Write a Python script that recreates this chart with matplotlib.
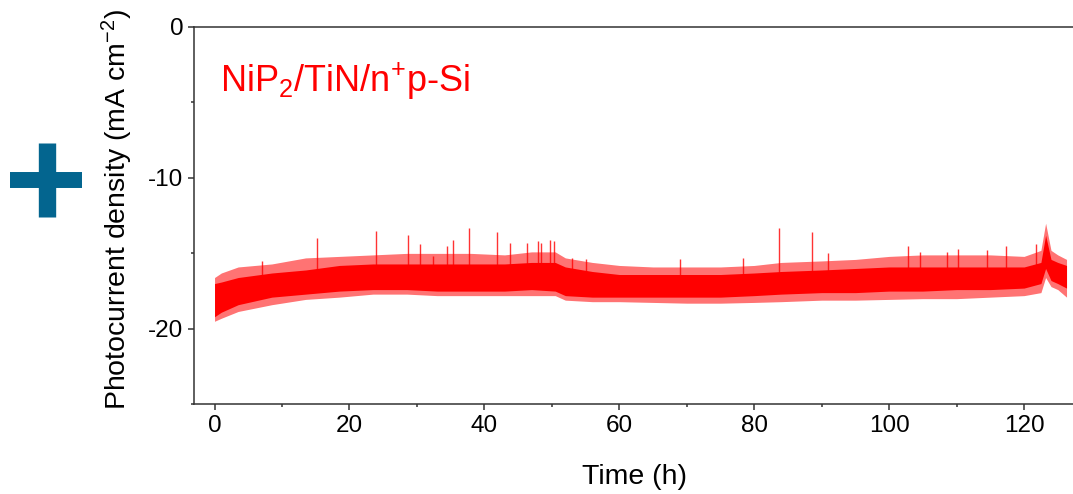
import numpy as np
import matplotlib
matplotlib.use("Agg")
import matplotlib.pyplot as plt
from matplotlib.lines import Line2D

plt.rcParams['font.family'] = ['Liberation Sans', 'DejaVu Sans']
plt.rcParams['mathtext.fontset'] = 'custom'
plt.rcParams['mathtext.rm'] = 'Liberation Sans'
plt.rcParams['mathtext.it'] = 'Liberation Sans:italic'
plt.rcParams['axes.unicode_minus'] = False

# envelope of the noisy trace (time in h, current in mA cm-2)
time_knots = [0, 1, 3.5, 8.5, 13.5, 18.5, 23.5, 28.5, 33, 38, 43, 47, 50.5, 52, 56,
              60, 65, 70, 75, 80, 84, 90, 95, 100, 105, 110, 115, 120, 122.5,
              123.2, 124, 125, 126.3]
core_hi = [-17.0, -16.9, -16.6, -16.3, -16.1, -15.8, -15.7, -15.7, -15.7, -15.7,
           -15.7, -15.6, -15.6, -15.9, -16.2, -16.4, -16.4, -16.4, -16.4, -16.3,
           -16.2, -16.1, -16.0, -15.9, -15.9, -15.9, -15.9, -15.9, -15.6,
           -13.8, -15.4, -15.6, -15.8]
core_lo = [-19.2, -18.9, -18.4, -17.9, -17.7, -17.5, -17.4, -17.4, -17.5, -17.5,
           -17.5, -17.4, -17.5, -17.8, -17.9, -17.9, -17.9, -17.9, -17.9, -17.8,
           -17.7, -17.6, -17.6, -17.5, -17.5, -17.4, -17.4, -17.3, -17.0,
           -16.0, -16.8, -17.0, -17.3]
fringe_hi = [-16.6, -16.3, -15.9, -15.7, -15.3, -15.2, -15.1, -15.0, -15.0, -15.0,
             -15.1, -14.9, -14.9, -15.3, -15.6, -15.8, -15.9, -15.9, -15.9, -15.8,
             -15.6, -15.5, -15.4, -15.2, -15.1, -15.1, -15.1, -15.2, -14.8,
             -13.0, -14.8, -15.1, -15.4]
fringe_lo = [-19.5, -19.3, -18.85, -18.4, -18.05, -17.9, -17.7, -17.7, -17.8, -17.8,
             -17.8, -17.8, -17.8, -18.1, -18.2, -18.2, -18.25, -18.3, -18.3, -18.25,
             -18.2, -18.1, -18.1, -18.05, -18.0, -18.0, -17.9, -17.8, -17.6,
             -16.6, -17.2, -17.4, -17.9]

# isolated spikes sticking out of the band
spike_time = [7.1, 15.2, 24.0, 28.7, 30.5, 32.4, 34.5, 35.4, 37.7, 41.9, 43.8,
              46.3, 47.9, 48.4, 49.8, 50.3, 53.0, 55.0, 69.0, 78.3, 83.7, 88.5,
              91.0, 102.8, 104.6, 108.6, 110.2, 114.5, 117.4, 121.7]
spike_peak = [-15.5, -14.0, -13.5, -13.8, -14.4, -15.2, -14.5, -14.1, -13.3, -13.6,
              -14.3, -14.3, -14.2, -14.3, -14.1, -14.2, -15.3, -15.4, -15.4, -15.3,
              -13.3, -13.6, -14.95, -14.5, -14.9, -14.9, -14.7, -14.75, -14.5, -14.4]

W, H = 1073, 494
fig = plt.figure(figsize=(W / 100, H / 100), dpi=100)
ax = fig.add_axes([194.3 / W, 1 - 404.3 / H, (1078 - 194.3) / W, (404.3 - 27) / H])

red = '#ff0000'
ax.fill_between(time_knots, fringe_lo, fringe_hi, color=red, alpha=0.55, lw=0)
ax.fill_between(time_knots, core_lo, core_hi, color=red, lw=0)
ax.vlines(spike_time, -16.5, spike_peak, color=red, lw=1.0, alpha=0.8)

ax.set_xlim(-3, 128)
ax.set_ylim(-25, 0)
ax.set_xticks([0, 20, 40, 60, 80, 100, 120])
ax.set_xticks([10, 30, 50, 70, 90, 110], minor=True)
ax.set_yticks([-20, -10, 0])
ax.set_yticks([-25, -15, -5], minor=True)
ax.tick_params(which='both', direction='out', labelsize=17.5, color='#333333',
               width=1.1, pad=4)
ax.tick_params(which='major', length=4)
ax.tick_params(which='minor', length=2.5)
ax.spines['right'].set_visible(False)
for s in ['left', 'bottom', 'top']:
    ax.spines[s].set_linewidth(1.1)
    ax.spines[s].set_color('#333333')

ax.text(0.85, -4.3, r'NiP$_2$/TiN/n$^{+}$p-Si', color=red, fontsize=26,
        va='baseline', ha='left')

fig.text(635 / W, 1 - 477 / H, 'Time (h)', fontsize=20.5, ha='center', va='center')
fig.text(117 / W, 1 - 210 / H, r'Photocurrent density (mA cm$^{-2}$)', fontsize=20.5,
         rotation=90, ha='center', va='center')

# blue plus sign on the left
blue = '#03658f'
fig.add_artist(Line2D([10 / W, 82 / W], [1 - 180 / H, 1 - 180 / H], color=blue,
                      lw=11.5, solid_capstyle='butt', transform=fig.transFigure))
fig.add_artist(Line2D([47 / W, 47 / W], [1 - 143 / H, 1 - 217 / H], color=blue,
                      lw=12.5, solid_capstyle='butt', transform=fig.transFigure))

fig.savefig('out.png', dpi=100)
